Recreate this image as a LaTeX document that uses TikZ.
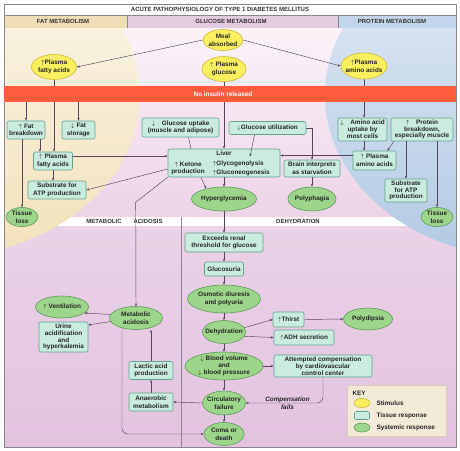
\documentclass[tikz,border=0pt]{standalone}
\usepackage{fontspec}
\setmainfont{Liberation Sans}
\usetikzlibrary{shapes.geometric, arrows.meta, positioning, backgrounds}

\definecolor{stimfill}{HTML}{FAEF5E}
\definecolor{stimline}{HTML}{C9BC3A}
\definecolor{tissfill}{HTML}{C9ECDF}
\definecolor{tissline}{HTML}{62A291}
\definecolor{sysfill}{HTML}{9DD58B}
\definecolor{sysline}{HTML}{5C9C5A}
\definecolor{barred}{HTML}{FF5B3D}
\definecolor{linkcol}{HTML}{574560}
\definecolor{fathead}{HTML}{EEDDB5}
\definecolor{gluhead}{HTML}{E5CBDF}
\definecolor{prohead}{HTML}{C2D5EA}
\definecolor{creamtop}{HTML}{FCF8EE}
\definecolor{creambot}{HTML}{F2E1BA}
\definecolor{bluetop}{HTML}{E3ECF6}
\definecolor{bluebot}{HTML}{B3CAE4}
\definecolor{pinktop}{HTML}{FBF3F8}
\definecolor{pinkbot}{HTML}{EDD3E7}
\definecolor{lowpink}{HTML}{E3C3DF}
\definecolor{keyfill}{HTML}{F3EBD8}
\definecolor{keyline}{HTML}{D8CCB4}
\definecolor{framecol}{HTML}{8C8490}

\newcommand{\upar}{$\uparrow$}
\newcommand{\dnar}{$\downarrow$}

\begin{document}
\begin{tikzpicture}[
    x=1pt, y=-1pt,
    every node/.style={font=\fontsize{6.4}{7.6}\selectfont\bfseries, text=black!85},
    sz/.style 2 args={minimum width=#1pt, minimum height=#2pt},
    tight/.style={font=\fontsize{6.4}{6.8}\selectfont\bfseries},
    stim/.style={ellipse, draw=stimline, fill=stimfill, line width=0.6pt, inner xsep=-6pt, inner ysep=-4pt, align=center},
    tiss/.style={draw=tissline, fill=tissfill, line width=0.6pt, rounded corners=2pt, inner sep=1pt, align=center},
    sys/.style={ellipse, draw=sysline, fill=sysfill, line width=0.6pt, inner xsep=-6pt, inner ysep=-4pt, align=center},
    hdr/.style={font=\fontsize{6}{7}\selectfont\bfseries, text=black!80},
    arrow/.style={-{Stealth[length=3pt, width=2.4pt]}, draw=linkcol, line width=0.45pt},
    link/.style={draw=linkcol, line width=0.45pt},
    lbl/.style={font=\fontsize{6.4}{7.6}\selectfont\bfseries\itshape, align=center}
]
\useasboundingbox (0,0) rectangle (460,450);

\begin{pgfonlayer}{background}
  \shade[top color=pinktop, bottom color=pinkbot] (4,28) rectangle (456,217);
  \fill[white] (4,217) rectangle (456,226);
  \shade[top color=lowpink!75!white, bottom color=lowpink] (4,226) rectangle (456,447);
  \begin{scope}
    \clip (4,28) rectangle (456,447);
    \shade[top color=creamtop, bottom color=creambot] (-60,95) ellipse [x radius=200, y radius=161.5];
    \shade[top color=bluetop, bottom color=bluebot] (525,95) ellipse [x radius=200, y radius=162];
  \end{scope}
  \draw[framecol, line width=0.4pt] (181,217) -- (181,447);
  \fill[white] (4,4) rectangle (456,15);
  \fill[fathead] (4,15) rectangle (127,28);
  \fill[gluhead] (127,15) rectangle (338,28);
  \fill[prohead] (338,15) rectangle (456,28);
  \draw[framecol, line width=0.4pt] (127,15) -- (127,28) (338,15) -- (338,28) (4,15) -- (456,15);
  \draw[framecol, line width=0.5pt] (4,4) rectangle (456,447);
\end{pgfonlayer}

\node[hdr] (title) at (220,9) {ACUTE PATHOPHYSIOLOGY OF TYPE 1 DIABETES MELLITUS};
\node[hdr] (fathd) at (63,21.5) {FAT METABOLISM};
\node[hdr] (gluhd) at (231,21.5) {GLUCOSE METABOLISM};
\node[hdr] (prohd) at (392,21.5) {PROTEIN METABOLISM};

\node[stim, sz={40}{21}] (meal) at (223,40) {Meal\\absorbed};
\node[stim, sz={45}{25}] (pfa) at (54,67) {\upar Plasma\\fatty acids};
\node[stim, sz={44}{25}] (pglu) at (224,69) {\upar\ Plasma\\glucose};
\node[stim, sz={46}{26}] (paa) at (364,66) {\upar Plasma\\amino acids};

\node[fill=barred, sz={452}{16}, inner sep=0pt] (nobar) at (230,94) {};
\node[text=white] (notext) at (223,94) {No insulin released};

\node[tiss, sz={38}{18}] (fatbrk) at (26,130) {\upar\ Fat\\breakdown};
\node[tiss, sz={33}{18}] (fatsto) at (78.5,130) {\dnar\ Fat\\storage};
\node[tiss, sz={39}{18}] (pfabox) at (53,161) {\upar\ Plasma\\fatty acids};
\node[tiss, sz={58}{18}] (fatatp) at (57,190) {Substrate for\\ATP production};
\node[sys, sz={32}{19}] (fatloss) at (22,217) {Tissue\\loss};

\node[tiss, sz={77}{19}] (gluupt) at (180.5,127.5) {\dnar\quad Glucose uptake\\(muscle and adipose)};
\node[tiss, sz={77}{13}] (gluutil) at (267.5,128) {\dnar Glucose utilization};
\node[tiss, sz={112}{28}] (liver) at (224,163) {};
\node (livtitle) at (224,153.5) {Liver};
\node[align=center] (ketone) at (188,168.5) {\upar\ Ketone\\production};
\node[align=left, anchor=west] (glyco) at (209,168) {\upar Glycogenolysis\\[1.5pt]\upar Gluconeogenesis};
\node[tiss, sz={56}{17}] (brain) at (312,168.5) {Brain interprets\\as starvation};
\node[sys, sz={65}{24}] (hyper) at (224,199) {Hyperglycemia};
\node[sys, sz={48}{24}] (polyph) at (312,199) {Polyphagia};

\node[tiss, tight, sz={49}{23}] (aaupt) at (362.5,129.5) {\dnar\quad Amino acid\\uptake by\\most cells};
\node[tiss, tight, sz={62}{23}] (protbrk) at (422,129.5) {\upar\quad Protein\\breakdown,\\especially muscle};
\node[tiss, sz={43}{19}] (paabox) at (374.5,160.5) {\upar\ Plasma\\amino acids};
\node[tiss, tight, sz={42}{23}] (protatp) at (406,190.5) {Substrate\\for ATP\\production};
\node[sys, sz={32}{19}] (protloss) at (437,217) {Tissue\\loss};

\node[hdr] (metlbl) at (104,221.5) {METABOLIC};
\node[hdr] (acilbl) at (148,221.5) {ACIDOSIS};
\node[hdr] (dehlbl) at (298,221.5) {DEHYDRATION};

\node[tiss, sz={78}{19}] (exceeds) at (224,242.5) {Exceeds renal\\threshold for glucose};
\node[tiss, sz={39}{14}] (glucosur) at (224,269) {Glucosuria};
\node[sys, sz={73}{28}] (osmotic) at (224,299) {Osmotic diuresis\\and polyuria};
\node[sys, sz={43}{23}] (dehyd) at (224,332) {Dehydration};
\node[tiss, sz={31}{15}] (thirst) at (288.5,319.5) {\upar Thirst};
\node[sys, sz={49}{22}] (polydip) at (368,319) {Polydipsia};
\node[tiss, sz={60}{15}] (adh) at (304,337.5) {\upar ADH secretion};
\node[sys, tight, sz={78}{28}] (bloodvol) at (224,366) {\dnar\ Blood volume\\and\\\dnar\ blood pressure};
\node[tiss, tight, sz={98}{22}] (attempt) at (323,366) {Attempted compensation\\by cardiovascular\\control center};
\node[sys, sz={43}{24}] (circfail) at (224,403) {Circulatory\\failure};
\node[sys, sz={40}{23}] (coma) at (224,434) {Coma or\\death};
\node[tiss, sz={44}{18}] (anaer) at (151,402) {Anaerobic\\metabolism};
\node[tiss, sz={44}{18}] (lactic) at (151,370.5) {Lactic acid\\production};
\node[sys, sz={53}{23}] (metacid) at (136,318) {Metabolic\\acidosis};
\node[sys, sz={53}{22}] (ventil) at (62,307) {\upar\ Ventilation};
\node[tiss, tight, sz={49}{30}] (urine) at (63.5,337) {Urine\\acidification\\and\\hyperkalemia};

\node[draw=keyline, fill=keyfill, sz={99}{51}, inner sep=0pt] (keybox) at (396.5,410.5) {};
\node[anchor=west] (keyttl) at (349,393) {KEY};
\node[stim, sz={16}{9}] (keystim) at (362,403) {};
\node[anchor=west] (keystimt) at (373,403) {Stimulus};
\node[tiss, sz={15}{8}] (keytiss) at (362,415.5) {};
\node[anchor=west] (keytisst) at (373,415.5) {Tissue response};
\node[sys, sz={16}{9}] (keysys) at (362,427.5) {};
\node[anchor=west] (keysyst) at (373,427.5) {Systemic response};

\begin{pgfonlayer}{background}
  \draw[arrow] (pfa.south) -- (pfa.south |- pfabox.north);
  \draw[arrow] (pglu.south) -- (pglu.south |- liver.north);
  \draw[arrow] (paa.south) -- (paa.south |- aaupt.north);
\end{pgfonlayer}

\draw[arrow] (meal.west) -- (pfa.east);
\draw[arrow] (meal.east) -- (paa.west);
\draw[arrow] (nobar.south -| fatbrk) -- (fatbrk.north);
\draw[arrow] (nobar.south -| fatsto) -- (fatsto.north);
\draw[arrow] ([xshift=14pt]fatbrk.south) -- ([xshift=14pt]fatbrk.south |- pfabox.north);
\draw[arrow] ([xshift=-4pt]fatbrk.south) -- (fatloss.north);
\draw[arrow] (pfabox.south) -- (pfabox.south |- fatatp.north);
\draw[arrow] ([yshift=5pt]pfabox.east) -- ([yshift=5pt]pfabox.east -| liver.west);
\draw[arrow] ([yshift=-6pt]liver.west) -- (fatatp.east);
\draw[arrow] (liver.south west) -- ++(-32,25) -- (metacid.north);
\draw[link] ([xshift=8pt]gluupt.south) -- ([xshift=-33pt]liver.north);
\draw[arrow] ([xshift=-13pt]gluutil.south) -- ([xshift=26pt, yshift=-8pt]liver.north);
\draw[arrow] (gluutil.east) -| (brain.north);
\draw[arrow] ([xshift=-23pt]liver.south) -- (hyper.150);
\draw[arrow] (liver.south) -- (hyper.north);
\draw[arrow] (brain.south) -- (polyph.north);
\draw[arrow] ([yshift=5pt]paabox.west) -- ([yshift=5pt]paabox.west -| liver.east);
\draw[arrow] ([xshift=1.5pt]aaupt.south) -- ([xshift=1.5pt]aaupt.south |- paabox.north);
\draw[arrow] ([xshift=-28pt]protbrk.south) -- ([xshift=-9pt]paabox.north east);
\draw[arrow] ([xshift=-16pt]protbrk.south) -- (protatp.north);
\draw[arrow] ([xshift=15pt]protbrk.south) -- (protloss.north);

\draw[arrow] (hyper.south) -- (exceeds.north);
\draw[arrow] (exceeds.south) -- (glucosur.north);
\draw[arrow] (glucosur.south) -- (osmotic.north);
\draw[arrow] (osmotic.south) -- (dehyd.north);
\draw[arrow] (dehyd.south) -- (bloodvol.north);
\draw[arrow] (bloodvol.south) -- (circfail.north);
\draw[arrow] (circfail.south) -- (coma.north);
\draw[arrow] (dehyd.12) -- (thirst.west);
\draw[arrow] (dehyd.-12) -- (adh.west);
\draw[arrow] (thirst.east) -- (polydip.west);
\draw[arrow] (bloodvol.east) -- (attempt.west);
\draw[arrow, rounded corners=6pt] (attempt.south) |- node[lbl, pos=0.73] (compfail) {Compensation\\fails} (circfail.east);
\draw[arrow] (circfail.west) -- (anaer.east);
\draw[arrow] (anaer.north) -- (lactic.south);
\draw[arrow] (lactic.north) -- (lactic.north |- metacid.south);
\draw[arrow, rounded corners=6pt] ([xshift=-14pt, yshift=2pt]metacid.south) |- (coma.west);
\draw[arrow] (metacid.172) -- (ventil.-15);
\draw[arrow] (metacid.188) -- ([yshift=12pt]urine.east);
\end{tikzpicture}
\end{document}
